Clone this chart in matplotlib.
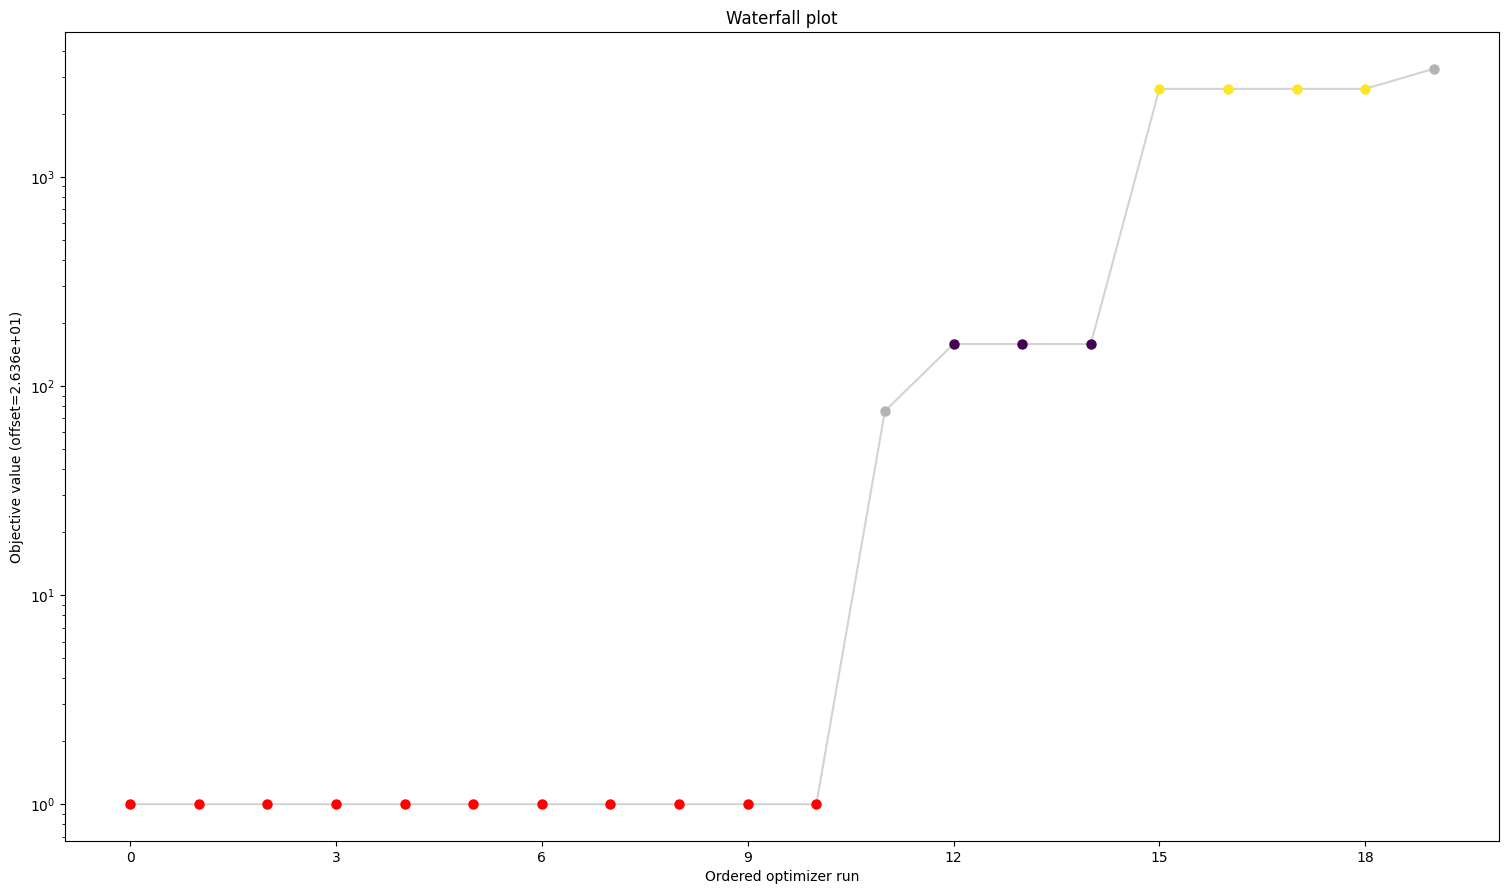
import matplotlib
matplotlib.use("Agg")
import matplotlib.pyplot as plt
import numpy as np

runs = list(range(20))
values = [1.0] * 11 + [75.9, 158.8, 158.8, 158.8, 2637.0, 2637.0, 2637.0, 2637.0, 3290.0]
colors = ["red"] * 11 + ["#b3b3b3", "#440154", "#440154", "#440154",
                         "#fde725", "#fde725", "#fde725", "#fde725", "#b3b3b3"]
xticks = [0, 3, 6, 9, 12, 15, 18]

fig = plt.figure(figsize=(15.08, 8.94), dpi=100)
ax = fig.add_axes([65 / 1508, 1 - 841 / 894, (1499 - 65) / 1508, (841 - 32) / 894])
ax.plot(runs, values, color="#d3d3d3", linewidth=1.5, zorder=1)
for x, y, c in zip(runs, values, colors):
    ax.plot([x], [y], "o", color=c, markersize=6.5, zorder=2)
ax.set_yscale("log")
ax.set_xticks(xticks)
ax.set_xlabel("Ordered optimizer run")
ax.set_ylabel("Objective value (offset=2.636e+01)")
ax.set_title("Waterfall plot")
fig.savefig("out.png", dpi=100)
